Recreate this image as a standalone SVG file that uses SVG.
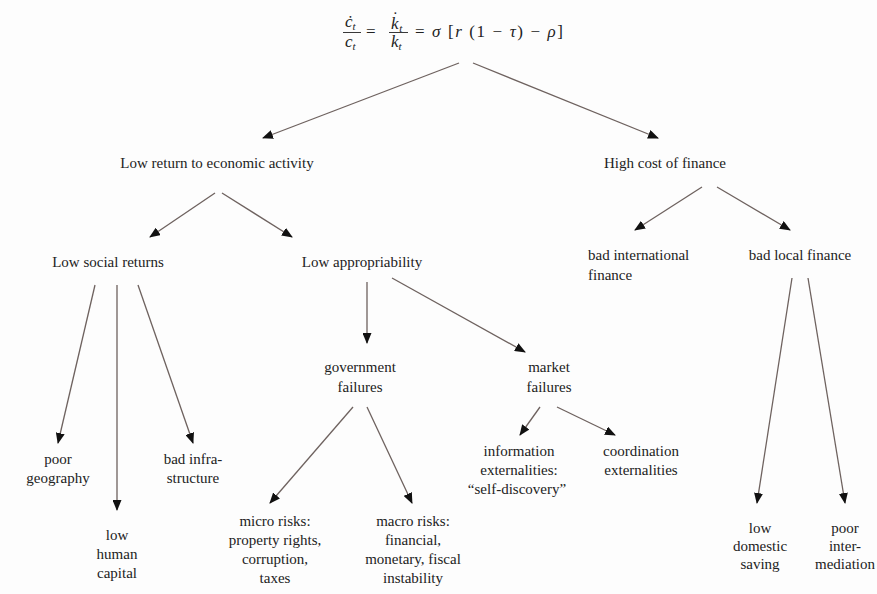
<svg xmlns="http://www.w3.org/2000/svg" width="877" height="594" viewBox="0 0 877 594">
<defs>
  <marker id="ah" markerUnits="userSpaceOnUse" markerWidth="11" markerHeight="9" refX="10" refY="4.5" orient="auto">
    <path d="M0,0 L11,4.5 L0,9 z" fill="#111"/>
  </marker>
</defs>
<rect width="877" height="594" fill="#fdfdfd"/>

<g id="equation" font-family="Liberation Serif" font-size="17" fill="#222">
  <text x="345" y="27" font-style="italic">ċ<tspan font-size="11" dy="3">t</tspan></text>
  <line x1="343" y1="32.5" x2="361" y2="32.5" stroke="#222" stroke-width="0.9"/>
  <text x="345" y="47" font-style="italic">c<tspan font-size="11" dy="3">t</tspan></text>
  <text x="366" y="37">=</text>
  <text x="391" y="29" font-style="italic">k<tspan font-style="normal" dx="-6" dy="-6">˙</tspan><tspan font-size="11" dx="1" dy="9">t</tspan></text>
  <line x1="389" y1="32.5" x2="408" y2="32.5" stroke="#222" stroke-width="0.9"/>
  <text x="391" y="47" font-style="italic">k<tspan font-size="11" dy="3">t</tspan></text>
  <text x="415" y="37" textLength="148" lengthAdjust="spacing">= <tspan font-style="italic">σ</tspan> [<tspan font-style="italic">r</tspan> (1 − <tspan font-style="italic">τ</tspan>) − <tspan font-style="italic">ρ</tspan>]</text>
</g>

<g font-family="Liberation Serif" font-size="15" fill="#222" text-anchor="middle">
<g id="low-return"><text x="217" y="168">Low return to economic activity</text></g>
<g id="high-cost"><text x="665" y="168">High cost of finance</text></g>
<g id="low-social"><text x="108" y="267">Low social returns</text></g>
<g id="low-appropriability"><text x="362" y="267">Low appropriability</text></g>
<g id="bad-international" text-anchor="start"><text x="588" y="260">bad international</text><text x="588" y="280">finance</text></g>
<g id="bad-local"><text x="800" y="260">bad local finance</text></g>
<g id="poor-geography"><text x="58" y="464">poor</text><text x="58" y="483">geography</text></g>
<g id="low-human-capital"><text x="117" y="540">low</text><text x="117" y="559">human</text><text x="117" y="578">capital</text></g>
<g id="bad-infrastructure"><text x="193" y="464">bad infra-</text><text x="193" y="483">structure</text></g>
<g id="government-failures"><text x="360" y="372">government</text><text x="360" y="392">failures</text></g>
<g id="market-failures"><text x="549" y="372">market</text><text x="549" y="392">failures</text></g>
<g id="micro-risks"><text x="275" y="526">micro risks:</text><text x="275" y="545">property rights,</text><text x="275" y="564">corruption,</text><text x="275" y="583">taxes</text></g>
<g id="macro-risks"><text x="413" y="526">macro risks:</text><text x="413" y="545">financial,</text><text x="413" y="564">monetary, fiscal</text><text x="413" y="583">instability</text></g>
<g id="information-externalities"><text x="519" y="456">information</text><text x="519" y="475">externalities:</text><text x="517" y="494">“self-discovery”</text></g>
<g id="coordination-externalities"><text x="641" y="456">coordination</text><text x="641" y="475">externalities</text></g>
<g id="low-domestic-saving"><text x="760" y="533">low</text><text x="760" y="551">domestic</text><text x="760" y="569">saving</text></g>
<g id="poor-intermediation"><text x="845" y="533">poor</text><text x="845" y="551">inter-</text><text x="845" y="569">mediation</text></g>
</g>

<g id="connectors" stroke="#6e625f" stroke-width="1.3" fill="none" marker-end="url(#ah)">
  <line x1="459" y1="63" x2="263" y2="138"/>
  <line x1="473" y1="63" x2="658" y2="138"/>
  <line x1="215" y1="193" x2="150" y2="237"/>
  <line x1="222" y1="193" x2="292" y2="237"/>
  <line x1="702" y1="187" x2="635" y2="230"/>
  <line x1="717" y1="187" x2="790" y2="230"/>
  <line x1="95" y1="285" x2="58" y2="443"/>
  <line x1="117" y1="285" x2="117" y2="510"/>
  <line x1="138" y1="285" x2="193" y2="443"/>
  <line x1="367" y1="282" x2="367" y2="343"/>
  <line x1="392" y1="278" x2="525" y2="352"/>
  <line x1="353" y1="407" x2="270" y2="503"/>
  <line x1="367" y1="407" x2="412" y2="503"/>
  <line x1="540" y1="407" x2="520" y2="435"/>
  <line x1="557" y1="407" x2="615" y2="435"/>
  <line x1="792" y1="278" x2="757" y2="503"/>
  <line x1="808" y1="278" x2="845" y2="503"/>
</g>
</svg>
